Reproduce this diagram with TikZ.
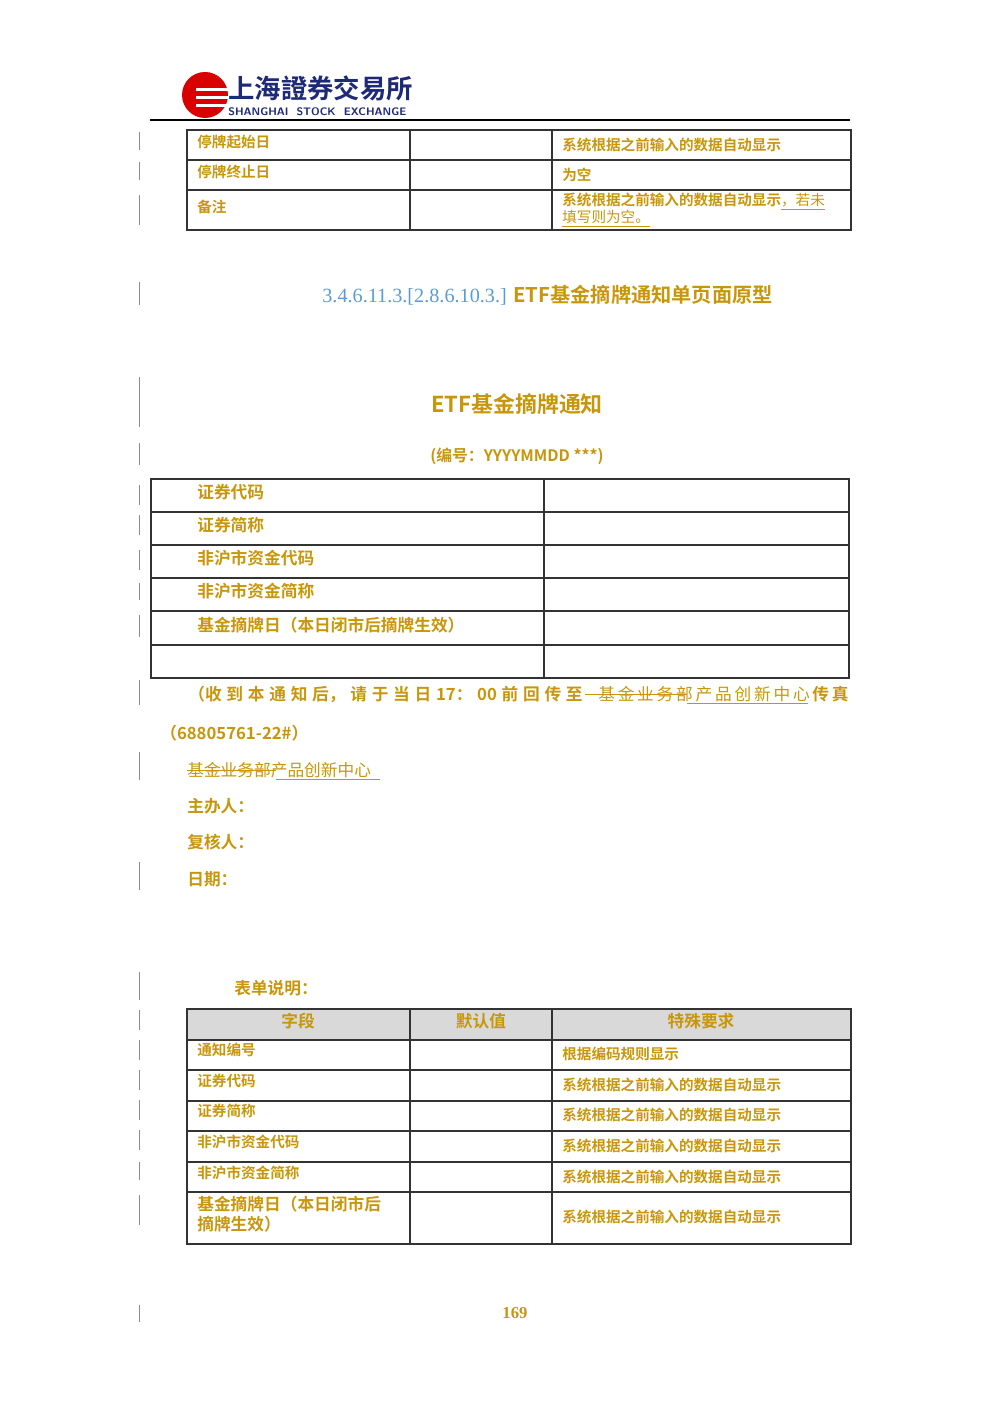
\documentclass[tikz,border=0pt]{standalone}
\usepackage{fontspec}
\newfontfamily\cjk{Noto Sans CJK SC}
\newfontfamily\cjkb{Noto Sans CJK SC Bold}
\newfontfamily\cjktc{Noto Sans CJK TC Bold}
\setmainfont{Liberation Serif}
\usetikzlibrary{positioning}
\definecolor{gold}{HTML}{C8960A}
\definecolor{hblue}{HTML}{5B9BD5}
\definecolor{lblue}{HTML}{1E2A78}
\definecolor{hdr}{HTML}{D9D9D9}
\newcommand\kk{\kern2.7pt}
\begin{document}
\begin{tikzpicture}[x=0.02cm,y=-0.02cm,
  tl/.style={anchor=west,text=gold,font=\cjkb\fontsize{8.3}{10}\selectfont,inner sep=0},
  fl/.style={anchor=west,text=gold,font=\cjkb\fontsize{9.5}{12}\selectfont,inner sep=0},
  grid/.style={draw=black!80,line width=0.6pt},
  cb/.style={draw=black!45,line width=0.5pt}]
\useasboundingbox (0,0) rectangle (1000,1415);
% logo
\fill[red!85!black] (205,95) circle (23);
\foreach \y in {88,96,104}{\fill[white] (196,\y) -- (230,\y) -- (230,\y+3) -- (196,\y+3) -- cycle;}
\node[anchor=west,text=lblue,font=\cjktc\fontsize{15}{15}\selectfont,inner sep=0] (logo) at (228,88) {上海證券交易所};
\node[anchor=west,text=lblue,font=\sffamily\bfseries\fontsize{6.2}{7}\selectfont,inner sep=0] (logoen) at (228,112) {SHANGHAI\ \ STOCK\ \ EXCHANGE};
\draw[line width=1pt] (150,120) -- (850,120);
% change bars
\foreach \a/\b in {132/150,162/180,195/225,282/305,377/427,443/465,485/505,515/535,550/570,583/600,615/637,680/705,752/780,862/890,972/1000,1010/1030,1040/1060,1070/1090,1100/1120,1130/1150,1162/1180,1195/1225,1305/1322}{\draw[cb] (139,\a) -- (139,\b);}
% top table
\draw[grid] (187,130) rectangle (851,230);
\draw[grid] (187,160) -- (851,160) (187,190) -- (851,190) (410,130) -- (410,230) (552,130) -- (552,230);
\node[tl] (a1) at (197,142) {停牌起始日};
\node[tl] (a2) at (197,172) {停牌终止日};
\node[tl] (a3) at (197,207) {备注};
\node[tl] (b1) at (562,145) {系统根据之前输入的数据自动显示};
\node[tl] (b2) at (562,175) {为空};
\node[tl] (b3) at (562,202) {系统根据之前输入的数据自动显示\cjk\underline{，若未}};
\node[tl,font=\cjk\fontsize{8.3}{10}\selectfont] (b4) at (562,219) {\underline{填写则为空。}};
% heading
\node[anchor=west,inner sep=0,font=\fontsize{11.5}{13}\selectfont] (hd) at (322,295) {\textcolor{hblue}{3.4.6.11.3.[2.8.6.10.3.]} \textcolor{gold}{\cjkb ETF基金摘牌通知单页面原型}};
\node[text=gold,font=\cjkb\fontsize{12.5}{15}\selectfont] (title) at (517,404) {ETF基金摘牌通知};
\node[text=gold,font=\cjkb\fontsize{9}{11}\selectfont] (no) at (517,456) {(编号：YYYYMMDD ***)};
% form table
\draw[grid] (151,479) rectangle (849,678);
\foreach \y in {512,545,578,611,645}{\draw[grid] (151,\y) -- (849,\y);}
\draw[grid] (544,479) -- (544,678);
\node[fl] (f1) at (197,492) {证券代码};
\node[fl] (f2) at (197,525) {证券简称};
\node[fl] (f3) at (197,558) {非沪市资金代码};
\node[fl] (f4) at (197,591) {非沪市资金简称};
\node[fl] (f5) at (197,625) {基金摘牌日（本日闭市后摘牌生效）};
\node[fl] (p1) at (188,694) {（收\kk 到\kk 本\kk 通\kk 知\kk 后，\kk 请\kk 于\kk 当\kk 日\kk 17：\kk 00\kk 前\kk 回\kk 传\kk 至};
\node[anchor=east,inner sep=0,text=gold,font=\cjkb\fontsize{9.5}{12}\selectfont] (p1b) at (849,694) {{\cjk 基\,金\,业\,务\,部\,产\,品\,创\,新\,中\,心}\,传\,真};
\draw[gold,line width=0.5pt] (585,694) -- (687,694);
\draw[gold,line width=0.5pt] (687,703) -- (808,703);
\node[fl] (p2) at (160,733) {（68805761-22\#）};
\node[fl,font=\cjk\fontsize{9.5}{12}\selectfont] (p3) at (187,770) {基金业务部产品创新中心};
\draw[gold,line width=0.5pt] (187,770) -- (276,770);
\draw[gold,line width=0.5pt] (276,779) -- (380,779);
\node[fl] (p4) at (187,806) {主办人：};
\node[fl] (p5) at (187,842) {复核人：};
\node[fl] (p6) at (187,879) {日期：};
\node[fl] (p7) at (234,988) {表单说明：};
% bottom table
\fill[hdr] (187,1009) rectangle (851,1040);
\draw[grid] (187,1009) rectangle (851,1244);
\foreach \y in {1040,1070,1101,1131,1162,1192}{\draw[grid] (187,\y) -- (851,\y);}
\draw[grid] (410,1009) -- (410,1244) (552,1009) -- (552,1244);
\node[text=gold,font=\cjkb\fontsize{9.5}{12}\selectfont] (h1) at (298,1021) {字段};
\node[text=gold,font=\cjkb\fontsize{9.5}{12}\selectfont] (h2) at (481,1021) {默认值};
\node[text=gold,font=\cjkb\fontsize{9.5}{12}\selectfont] (h3) at (701,1021) {特殊要求};
\node[tl] (c1) at (197,1050) {通知编号};
\node[tl] (c2) at (197,1081) {证券代码};
\node[tl] (c3) at (197,1111) {证券简称};
\node[tl] (c4) at (197,1142) {非沪市资金代码};
\node[tl] (c5) at (197,1173) {非沪市资金简称};
\node[fl] (c6) at (197,1204) {基金摘牌日（本日闭市后};
\node[fl] (c7) at (197,1224) {摘牌生效）};
\node[tl] (d1) at (562,1054) {根据编码规则显示};
\foreach \n/\y in {2/1085,3/1115,4/1146,5/1177,6/1217}{\node[tl] (d\n) at (562,\y) {系统根据之前输入的数据自动显示};}
\node[text=gold,font=\bfseries\fontsize{9.5}{12}\selectfont] (pg) at (515,1313) {169};
\end{tikzpicture}
\end{document}
